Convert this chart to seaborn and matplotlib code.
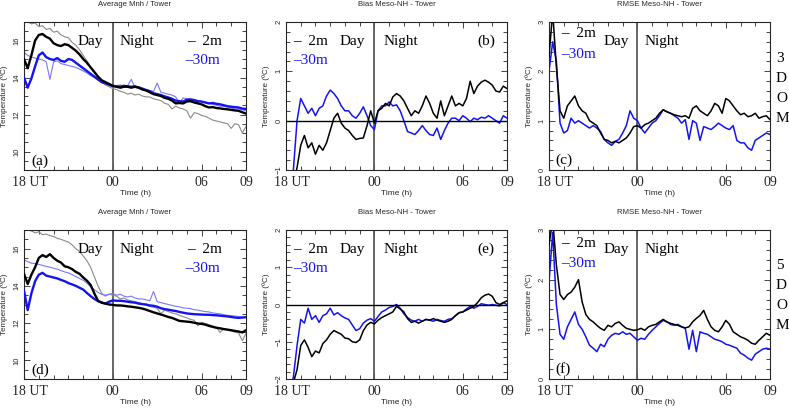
import numpy as np
import pandas as pd
import matplotlib
matplotlib.use("Agg")
import matplotlib.pyplot as plt
import matplotlib.transforms as mtransforms
from matplotlib.ticker import MultipleLocator
import seaborn as sns

# ---------------- data (15-min resolution) ----------------
HOURS = np.arange(18.0, 33.001, 0.25)
XTICKS = [18, 24, 30, 33]
XTICKLABELS = ["18 UT", "00", "06", "09"]

A_MOD2 = [15.0, 14.5, 15.2, 16.0, 16.3, 16.35, 16.2, 16.1, 15.85, 15.75, 15.7, 15.8,
          15.75, 15.6, 15.45, 15.25, 15.0, 14.8, 14.55, 14.3, 14.05, 13.85, 13.75, 13.65,
          13.55, 13.5, 13.45, 13.5, 13.5, 13.45, 13.5, 13.45, 13.35, 13.3, 13.2, 13.1,
          13.05, 13.0, 12.9, 12.85, 12.75, 12.6, 12.62, 12.6, 12.7, 12.72, 12.65, 12.6,
          12.55, 12.45, 12.38, 12.4, 12.35, 12.33, 12.3, 12.28, 12.25, 12.22, 12.2, 12.12,
          12.05]
A_MOD30 = [14.0, 13.45, 13.95, 14.6, 15.2, 15.35, 15.1, 15.0, 14.95, 15.05, 14.9, 14.85,
           15.0, 14.95, 14.8, 14.65, 14.5, 14.35, 14.2, 14.05, 13.9, 13.75, 13.68, 13.62,
           13.55, 13.52, 13.5, 13.55, 13.52, 13.5, 13.52, 13.45, 13.38, 13.32, 13.25, 13.15,
           13.1, 13.05, 12.98, 12.92, 12.85, 12.75, 12.72, 12.7, 12.8, 12.82, 12.78, 12.72,
           12.7, 12.65, 12.6, 12.62, 12.58, 12.55, 12.5, 12.45, 12.42, 12.4, 12.38, 12.32,
           12.3]
A_OBS2 = [17.1, 17.0, 16.9, 16.95, 16.75, 16.8, 16.6, 16.65, 16.45, 16.5, 16.3, 16.2,
          16.15, 15.9, 15.75, 15.5, 15.2, 14.9, 14.55, 14.3, 14.0, 13.8, 13.6, 13.5,
          13.4, 13.35, 13.25, 13.2, 13.1, 13.15, 13.05, 13.1, 13.0, 12.95, 12.95, 12.85,
          12.8, 12.75, 12.6, 12.55, 12.3, 12.45, 12.35, 12.3, 12.2, 11.8, 12.1, 12.05,
          11.95, 11.9, 11.8, 11.7, 11.65, 11.6, 11.55, 11.5, 11.25, 11.5, 11.45, 11.0,
          11.35]
A_OBS30 = [15.35, 15.2, 15.1, 15.05, 15.0, 14.95, 14.85, 13.9, 14.85, 14.9, 14.75, 14.7,
           14.65, 14.6, 14.55, 14.45, 14.35, 14.25, 14.1, 14.0, 13.85, 13.75, 13.65, 13.55,
           13.5, 13.55, 13.6, 13.5, 13.55, 13.9, 13.45, 13.5, 13.45, 13.35, 13.3, 13.25,
           13.7, 13.2, 13.15, 13.1, 13.05, 12.95, 12.6, 12.9, 12.85, 12.8, 12.8, 12.75,
           12.7, 12.65, 12.6, 12.55, 12.5, 12.45, 12.45, 12.4, 12.35, 12.3, 12.3, 12.25,
           12.2]

B_2M = [-1.8, -1.6, -1.3, -0.95, -0.5, -0.3, -0.55, -0.45, -0.68, -0.5, -0.6, -0.45,
        -0.2, 0.05, 0.15, -0.05, -0.15, -0.2, -0.3, -0.38, -0.36, -0.35, -0.1, 0.2,
        -0.05, 0.2, 0.25, 0.35, 0.3, 0.48, 0.55, 0.5, 0.4, 0.25, 0.1, 0.2,
        0.15, 0.3, 0.5, 0.35, 0.15, 0.05, 0.4, 0.1, 0.3, 0.5, 0.3, 0.35,
        0.3, 0.45, 0.8, 0.55, 0.7, 0.78, 0.82, 0.78, 0.72, 0.6, 0.58, 0.7,
        0.65]
B_30M = [-2.0, -1.6, -1.0, 0.0, 0.45, 0.3, 0.15, 0.25, 0.1, 0.25, 0.3, 0.5,
         0.62, 0.55, 0.45, 0.3, 0.2, 0.2, 0.1, 0.05, 0.15, 0.28, 0.1, -0.1,
         -0.18, 0.2, 0.3, 0.3, 0.38, 0.3, 0.32, 0.2, 0.0, -0.22, -0.25, -0.28,
         -0.2, -0.1, -0.2, -0.28, -0.3, -0.15, -0.38, -0.2, -0.05, 0.05, 0.05, 0.0,
         0.1, 0.05, -0.02, 0.05, 0.02, 0.07, 0.05, 0.1, 0.05, 0.0, -0.05, 0.1,
         0.05]

C_2M = [2.3, 3.2, 2.1, 1.2, 1.05, 1.3, 1.4, 1.5, 1.3, 1.2, 1.15, 1.0,
        0.95, 0.9, 0.75, 0.62, 0.6, 0.55, 0.58, 0.55, 0.6, 0.65, 0.75, 0.88,
        0.9, 0.85, 0.92, 0.95, 1.0, 1.05, 1.15, 1.22, 1.18, 1.15, 1.12, 1.1,
        1.08, 1.1, 1.05, 1.25, 1.3, 1.2, 1.15, 1.1, 1.2, 1.35, 1.3, 1.15,
        1.45, 1.4, 1.3, 1.2, 1.12, 1.15, 1.08, 1.1, 1.15, 1.05, 1.08, 1.1,
        1.02]
C_30M = [2.0, 2.6, 2.2, 0.95, 0.75, 0.8, 1.05, 0.95, 1.0, 0.95, 0.9, 0.85,
         0.9, 0.85, 0.78, 0.62, 0.55, 0.5, 0.58, 0.62, 0.75, 0.9, 1.2, 1.05,
         1.0, 0.85, 0.75, 0.85, 0.95, 1.0, 1.1, 1.22, 1.18, 1.15, 1.1, 1.05,
         0.95, 1.02, 0.62, 1.0, 0.95, 0.6, 0.88, 0.85, 0.82, 0.88, 0.95, 0.9,
         0.85, 0.82, 0.9, 0.6, 0.55, 0.55, 0.45, 0.4, 0.6, 0.65, 0.7, 0.75,
         0.72]

D_MOD2 = [14.65, 14.1, 14.6, 15.0, 15.5, 15.65, 15.55, 15.7, 15.5, 15.35, 15.25, 15.05,
          15.0, 14.9, 14.75, 14.65, 14.45, 14.28, 14.05, 13.6, 13.2, 13.1, 13.05, 13.0,
          12.98, 12.95, 12.95, 12.93, 12.9, 12.88, 12.85, 12.82, 12.78, 12.72, 12.65, 12.58,
          12.52, 12.46, 12.4, 12.33, 12.28, 12.2, 12.12, 12.1, 12.08, 12.06, 12.02, 11.98,
          11.96, 11.92, 11.85, 11.8, 11.75, 11.72, 11.68, 11.65, 11.62, 11.58, 11.55, 11.5,
          11.62]
D_MOD30 = [13.75, 12.7, 13.6, 14.25, 14.6, 14.7, 14.55, 14.5, 14.45, 14.4, 14.32, 14.25,
           14.15, 14.08, 14.0, 13.9, 13.8, 13.62, 13.45, 13.3, 13.18, 13.1, 13.05, 13.15,
           13.22, 13.2, 13.2, 13.18, 13.15, 13.12, 13.1, 13.05, 13.02, 13.0, 12.95, 12.93,
           12.88, 12.8, 12.75, 12.72, 12.68, 12.65, 12.6, 12.56, 12.52, 12.5, 12.48, 12.47,
           12.46, 12.45, 12.45, 12.43, 12.42, 12.4, 12.38, 12.36, 12.33, 12.3, 12.28, 12.3,
           12.32]
D_OBS2 = [17.1, 17.0, 16.95, 16.85, 16.9, 16.75, 16.78, 16.7, 16.65, 16.55, 16.5, 16.42,
          16.35, 16.2, 16.0, 15.85, 15.6, 15.35, 15.0, 14.5, 14.0, 13.6, 13.45, 13.55,
          13.5, 13.45, 13.3, 13.35, 13.25, 13.2, 13.15, 13.1, 13.05, 12.95, 12.9, 12.85,
          12.8, 12.5, 12.7, 12.62, 12.55, 12.5, 12.42, 12.35, 12.28, 12.2, 12.15, 11.85,
          12.05, 11.98, 11.92, 11.85, 11.78, 11.5, 11.7, 11.62, 11.58, 11.52, 11.48, 11.05,
          11.45]
D_OBS30 = [15.4, 15.3, 15.22, 15.2, 15.15, 15.1, 15.05, 15.0, 14.95, 14.9, 14.82, 14.75,
           14.7, 14.6, 14.5, 14.4, 14.3, 14.15, 13.95, 13.8, 13.65, 13.55, 13.5, 13.55,
           13.6, 13.5, 13.55, 13.45, 13.4, 13.45, 13.35, 13.3, 13.3, 13.25, 13.2, 13.7,
           13.15, 13.1, 13.05, 13.0, 12.95, 12.9, 12.88, 12.82, 12.8, 12.78, 12.72, 12.7,
           12.65, 12.62, 12.6, 12.55, 12.52, 12.5, 12.45, 12.42, 12.4, 12.38, 12.35, 12.32,
           12.3]

E_2M = [-2.5, -2.3, -2.1, -1.75, -1.1, -0.95, -1.15, -1.4, -1.25, -1.3, -1.05, -0.95,
        -0.8, -0.7, -0.75, -0.8, -0.9, -0.92, -1.0, -1.02, -0.95, -0.7, -0.55, -0.48,
        -0.52, -0.42, -0.35, -0.3, -0.25, -0.2, -0.05, -0.12, -0.2, -0.38, -0.48, -0.45,
        -0.5, -0.45, -0.4, -0.42, -0.38, -0.42, -0.45, -0.48, -0.45, -0.4, -0.3, -0.22,
        -0.2, -0.15, -0.1, -0.05, 0.05, 0.18, 0.25, 0.28, 0.22, 0.05, 0.0, 0.05,
        0.1]
E_30M = [-2.5, -2.3, -1.95, -1.1, -0.4, -0.5, -0.1, -0.4, -0.3, -0.48, -0.3, -0.25,
         -0.1, -0.28, -0.22, -0.3, -0.36, -0.4, -0.55, -0.7, -0.65, -0.5, -0.42, -0.38,
         -0.45, -0.32, -0.2, -0.15, -0.08, -0.05, 0.0, -0.1, -0.25, -0.35, -0.42, -0.45,
         -0.4, -0.45, -0.4, -0.42, -0.45, -0.4, -0.43, -0.45, -0.4, -0.38, -0.3, -0.22,
         -0.2, -0.12, -0.05, -0.1, -0.05, 0.02, 0.0, -0.02, 0.0, -0.02, -0.04, 0.05,
         0.0]

F_2M = [2.7, 3.2, 2.3, 1.7, 1.6, 1.7, 1.75, 1.85, 2.0, 1.55, 1.3, 1.2,
        1.15, 1.08, 1.02, 0.98, 1.08, 1.05, 1.12, 1.15, 1.08, 1.02, 1.0, 0.98,
        0.99, 1.02, 0.98, 1.05, 1.08, 1.1, 1.15, 1.2, 1.15, 1.12, 1.1, 1.08,
        1.05, 1.03, 1.05, 1.15, 1.22, 1.28, 1.38, 1.2, 1.05, 0.98, 0.95, 1.05,
        1.18, 1.1, 0.95, 0.9, 0.85, 0.82, 0.78, 0.72, 0.7, 0.78, 0.85, 0.92,
        0.88]
F_30M = [1.95, 2.95, 1.5, 0.9, 0.8, 1.05, 1.2, 1.35, 1.1, 1.0, 0.85, 0.68,
         0.62, 0.55, 0.7, 0.65, 0.8, 0.88, 0.92, 0.9, 0.95, 0.9, 0.92, 0.85,
         0.78, 0.82, 0.8, 0.9, 0.98, 1.05, 1.12, 1.18, 1.15, 1.1, 1.08, 1.1,
         1.05, 1.02, 0.6, 0.98, 0.55, 0.95, 0.92, 0.9, 0.85, 0.8, 0.78, 0.75,
         0.7, 0.68, 0.65, 0.62, 0.52, 0.48, 0.42, 0.38, 0.5, 0.55, 0.6, 0.62,
         0.6]

TITLES = ["Average Mnh / Tower", "Bias Meso-NH - Tower", "RMSE Meso-NH - Tower"]
PANEL_LETTERS = ["(a)", "(b)", "(c)", "(d)", "(e)", "(f)"]
DOM_LABELS = ["3", "5"]
LBL_2M = "–  2m"
LBL_30M = "–30m"

# ---------------- style ----------------
sns.set_style("ticks")
SERIF = ["Liberation Serif", "DejaVu Serif"]
SANS = ["Liberation Sans", "DejaVu Sans"]
plt.rcParams["font.family"] = SANS
plt.rcParams["axes.linewidth"] = 0.8

BLACK = "#000000"
BLUE = "#1414f0"
GRAY = "#8a8a8a"
LBLUE = "#7878ff"

W, H = 789, 408
fig = plt.figure(figsize=(W / 100, H / 100), dpi=100)

cols = [(24, 246), (286, 507), (549, 770)]
rows = [(22, 170), (230, 379)]


def make_ax(l, r, t, b):
    return fig.add_axes([l / W, 1 - b / H, (r - l) / W, (b - t) / H])


panel_data = [
    ("avg", A_MOD2, A_MOD30, A_OBS2, A_OBS30),
    ("bias", B_2M, B_30M),
    ("rmse", C_2M, C_30M),
    ("avg", D_MOD2, D_MOD30, D_OBS2, D_OBS30),
    ("bias", E_2M, E_30M),
    ("rmse", F_2M, F_30M),
]

for idx, pdata in enumerate(panel_data):
    r, c = divmod(idx, 3)
    (l, rr), (t, b) = cols[c], rows[r]
    ax = make_ax(l, rr, t, b)
    kind = pdata[0]

    if kind == "avg":
        sns.lineplot(x=HOURS, y=pdata[3], ax=ax, color=GRAY, linewidth=0.8, zorder=2)
        sns.lineplot(x=HOURS, y=pdata[4], ax=ax, color=LBLUE, linewidth=0.8, zorder=2)
        sns.lineplot(x=HOURS, y=pdata[1], ax=ax, color=BLACK, linewidth=1.7, zorder=4)
        sns.lineplot(x=HOURS, y=pdata[2], ax=ax, color=BLUE, linewidth=1.7, zorder=3)
        ax.set_ylim(9, 17)
        ax.set_yticks([10, 12, 14, 16])
        ax.yaxis.set_minor_locator(MultipleLocator(0.5))
    else:
        sns.lineplot(x=HOURS, y=pdata[1], ax=ax, color=BLACK, linewidth=1.1, zorder=4)
        sns.lineplot(x=HOURS, y=pdata[2], ax=ax, color=BLUE, linewidth=1.1, zorder=3)
        if kind == "bias":
            if r == 0:
                ax.set_ylim(-1, 2)
                ax.set_yticks([-1, 0, 1, 2])
            else:
                ax.set_ylim(-2, 2)
                ax.set_yticks([-2, -1, 0, 1, 2])
            ax.axhline(0, color=BLACK, linewidth=1.0, zorder=5)
        else:
            ax.set_ylim(0, 3)
            ax.set_yticks([0, 1, 2, 3])
        ax.yaxis.set_minor_locator(MultipleLocator(0.2))

    ax.axvline(24, color="#5a5a5a", linewidth=1.3, zorder=1)
    ax.set_xlim(18, 33)
    ax.set_xticks(XTICKS)
    ax.set_xticklabels(XTICKLABELS)
    ax.xaxis.set_minor_locator(MultipleLocator(1))
    ax.tick_params(which="both", direction="in", top=True, right=True, width=0.6)
    ax.tick_params(which="major", length=4.5)
    ax.tick_params(which="minor", length=2.8)
    ax.tick_params(axis="x", which="major", pad=4)
    ax.tick_params(axis="y", which="major", pad=2.5)
    for lab in ax.get_xticklabels():
        lab.set_family(SERIF)
        lab.set_fontsize(10)
    first = ax.get_xticklabels()[0]
    first.set_transform(first.get_transform() +
                        mtransforms.ScaledTranslation(5.5 / 100, 0, fig.dpi_scale_trans))
    for lab in ax.get_yticklabels():
        lab.set_rotation(90)
        lab.set_va("center")
        lab.set_fontsize(5.5)
    ax.set_xlabel("")
    ax.set_ylabel("")
    ax.text(0.5, -0.158, "Time (h)", transform=ax.transAxes, ha="center", va="center",
            fontsize=6)
    ax.text(-0.088, 0.5, "Temperature (ºC)", transform=ax.transAxes, ha="center",
            va="center", rotation=90, fontsize=5.8)
    ax.text(0.5, 1.115, TITLES[c], transform=ax.transAxes, ha="center", va="center",
            fontsize=5.6)

    tk = dict(transform=ax.transAxes, family=SERIF, fontsize=11, va="baseline")
    if c == 0:
        ax.text(0.243, 0.845, "Day", color=BLACK, **tk)
        ax.text(0.432, 0.845, "Night", color=BLACK, **tk)
        ax.text(0.734, 0.845, LBL_2M, color=BLACK, **tk)
        ax.text(0.725, 0.716, LBL_30M, color=BLUE, **tk)
        ax.text(0.032, 0.038, PANEL_LETTERS[idx], color=BLACK, **tk)
    elif c == 1:
        ax.text(0.032, 0.845, LBL_2M, color=BLACK, **tk)
        ax.text(0.032, 0.716, LBL_30M, color=BLUE, **tk)
        ax.text(0.244, 0.845, "Day", color=BLACK, **tk)
        ax.text(0.44, 0.845, "Night", color=BLACK, **tk)
        ax.text(0.864, 0.845, PANEL_LETTERS[idx], color=BLACK, **tk)
    else:
        y2 = 0.9 if r == 0 else 0.885
        y30 = 0.757 if r == 0 else 0.75
        ax.text(0.054, y2, LBL_2M, color=BLACK, **tk)
        ax.text(0.054, y30, LBL_30M, color=BLUE, **tk)
        ax.text(0.245, 0.845, "Day", color=BLACK, **tk)
        ax.text(0.434, 0.845, "Night", color=BLACK, **tk)
        ax.text(0.027, 0.04, PANEL_LETTERS[idx], color=BLACK, **tk)
        ys = [0.73, 0.595, 0.46, 0.324] if r == 0 else [0.736, 0.606, 0.473, 0.338]
        for ch, yy in zip([DOM_LABELS[r], "D", "O", "M"], ys):
            ax.text(1.027, yy, ch, color=BLACK, **tk)

fig.savefig("out.png", dpi=100)
